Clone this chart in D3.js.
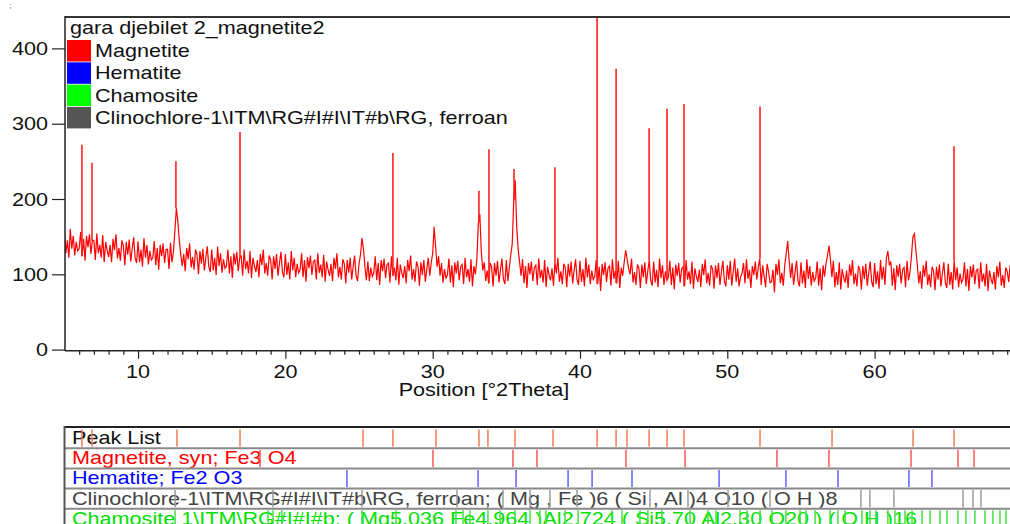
<!DOCTYPE html>
<html>
<head>
<meta charset="utf-8">
<script src="https://cdn.jsdelivr.net/npm/d3@7"></script>
<style>
body { margin: 0; background: #fff; }
text { font-family: "Liberation Sans", Arial, sans-serif; }
</style>
</head>
<body>
<svg id="chart" width="1010" height="524"></svg>
<script>
// scan: counts every 0.1 deg from 5.0 deg
var scanStart = 5.0, scanStep = 0.1
var counts = [
156,128,145,122,160,134,151,125,143,131,
134,156,124,147,118,151,136,153,127,145,
145,119,154,128,139,122,152,116,143,132,
123,139,116,147,132,153,121,135,118,145,
138,112,143,126,146,117,134,149,122,115,
144,116,133,110,148,122,139,113,131,119,
122,144,112,135,106,139,124,141,115,133,
133,107,142,116,130,158,188,170,145,126,
111,127,104,135,120,141,109,123,106,133,
126,100,131,114,134,105,122,137,110,103,
133,105,122,99,137,111,128,102,120,108,
111,133,101,124,95,128,113,130,104,122,
124,98,133,107,118,101,131,95,122,111,
103,119,96,127,112,133,101,115,98,125,
119,93,124,107,127,98,115,130,103,96,
127,99,116,93,131,105,122,96,114,102,
106,128,96,119,90,123,108,125,99,117,
119,93,128,102,113,96,126,90,117,106,
98,114,91,122,107,128,96,110,93,120,
114,88,119,102,122,93,110,125,98,91,
114,126,148,134,110,92,117,91,109,97,
102,124,92,115,86,119,104,121,95,113,
115,89,124,98,109,92,122,86,113,102,
95,111,88,119,104,125,93,107,90,117,
111,85,116,99,119,90,107,122,98,115,
128,163,136,110,124,98,115,89,107,95,
99,121,89,112,83,116,101,118,92,110,
113,87,122,96,107,90,120,84,111,100,
121,168,180,130,105,116,91,105,88,115,
110,84,115,98,118,89,106,121,94,87,
119,91,108,126,140,198,225,165,134,116,
98,120,88,111,82,115,100,117,91,109,
112,86,121,95,106,89,119,83,110,99,
92,108,85,116,101,122,90,104,87,114,
109,83,114,97,117,88,105,120,93,86,
118,90,107,84,122,96,113,87,105,93,
97,119,87,110,78,114,99,116,90,108,
111,85,120,94,105,88,118,82,109,98,
116,132,120,108,100,121,89,103,86,113,
108,82,113,96,116,87,104,119,92,85,
117,89,106,83,121,95,112,86,104,92,
96,118,86,109,80,113,98,115,89,107,
110,84,119,93,104,87,117,81,108,97,
90,106,83,114,99,120,88,102,85,112,
107,81,112,95,115,86,103,118,91,84,
112,93,118,85,103,121,90,108,84,97,
101,115,88,120,94,106,82,111,99,117,
93,109,121,86,112,98,83,114,104,89,
90,106,76,114,99,120,88,102,85,112,
128,144,118,95,115,86,103,118,91,84,
116,88,105,82,120,94,111,85,103,91,
95,117,85,108,79,112,97,114,124,138,
120,96,118,83,103,86,116,80,107,96,
89,105,82,113,98,119,87,101,84,111,
106,80,111,94,114,85,102,117,90,83,
115,87,104,81,119,93,110,86,122,131,
112,117,85,108,79,112,97,114,88,106,
109,83,118,92,103,124,150,154,132,112,
88,104,81,112,97,118,86,100,83,110,
105,79,110,93,113,84,101,116,89,82,
114,86,103,80,118,92,109,83,101,89,
94,116,84,107,78,111,96,113,87,105,
107,81,116,90,101,84,114,78,105,94,
87,103,80,111,96,117,85,99,82,109,
104,90,112
]

// sharp spikes in the scan
var spikePos    = [6.19, 6.87, 12.57, 16.92, 27.30, 33.14, 33.82, 35.52, 38.30, 41.16, 42.45, 44.69, 45.91, 47.06, 52.22, 65.39]
var spikeHeight = [272, 248, 250, 289, 261, 211, 266, 240, 242, 470, 373, 294, 320, 326, 323, 270]

// reference patterns (deg 2Theta)
var peakList = [6.19, 6.87, 12.64, 16.92, 25.27, 27.30, 30.22, 33.14, 33.75, 35.59, 38.17, 41.16, 42.45, 43.19, 44.69, 45.91, 47.06, 52.22, 57.11, 62.61, 65.39]
var magnetite = [18.28, 30.02, 35.45, 37.08, 43.12, 47.13, 53.37, 56.90, 62.47, 65.66, 66.75]
var hematite = [24.18, 33.08, 35.66, 39.19, 40.82, 43.53, 49.44, 53.98, 57.51, 62.33, 63.89]
var clinochlore = [12.51, 19.16, 25.20, 31.65, 34.77, 36.61, 37.96, 39.80, 44.75, 47.33, 50.05, 52.90, 59.07, 59.68, 61.31, 66.00, 66.68, 67.22]
var chamosite = [12.51, 18.82, 19.16, 19.77, 25.20, 27.51, 31.58, 32.06, 32.53, 33.75, 34.57, 35.59, 36.61, 37.28, 37.69, 38.98, 39.87,
  42.17, 42.85, 44.07, 44.61, 45.56, 47.47, 48.69, 49.23, 50.86, 51.34, 52.22, 53.04, 53.98, 54.94, 55.34, 55.96, 56.98, 57.51, 57.99,
  59.14, 59.68, 60.09, 60.90, 61.38, 62.06, 62.54, 63.22, 63.76, 64.44, 64.91, 65.66, 66.20, 66.81, 67.49, 68.03, 68.51, 68.92]

var legendTitle = "gara djebilet 2_magnetite2"
var legendNames = ["Magnetite", "Hematite", "Chamosite", "Clinochlore-1\\ITM\\RG#I#I\\IT#b\\RG, ferroan"]
var legendColors = ["#ff0000", "#0000ff", "#00ff00", "#555555"]

var rowLabels = ["Peak List", "Magnetite, syn; Fe3 O4", "Hematite; Fe2 O3",
  "Clinochlore-1\\ITM\\RG#I#I\\IT#b\\RG, ferroan; ( Mg , Fe )6 ( Si , Al )4 O10 ( O H )8",
  "Chamosite 1\\ITM\\RG#I#I#b; ( Mg5.036 Fe4.964 )Al2.724 ( Si5.70 Al2.30 O20 ) ( O H )16"]
var rowTextColors = ["#111111", "#ff0000", "#0000ff", "#444444", "#00e000"]
var rowStickColors = ["#f47a55", "#ff5555", "#6060ff", "#9a9a9a", "#44e044"]

var xTicks = [10, 20, 30, 40, 50, 60]
var yTicks = [0, 100, 200, 300, 400]

var svg = d3.select("#chart")

var x = d3.scaleLinear().domain([5.04, 69.19]).range([65, 1010])
var y = d3.scaleLinear().domain([0, 441.7]).range([349.6, 17])

function label(parent, tx, ty, str, size, color, anchor) {
    return parent.append("text")
        .attr("transform", "translate(" + tx + "," + ty + ") scale(1.2,1)")
        .attr("font-size", size)
        .attr("fill", color)
        .attr("text-anchor", anchor || "start")
        .text(str)
}

label(svg, 9, 8, ";", 8, "#666")

// plot area
svg.append("clipPath").attr("id", "clip")
    .append("rect").attr("x", 65).attr("y", 17).attr("width", 945).attr("height", 334)

var plot = svg.append("g").attr("clip-path", "url(#clip)")

var scan = counts.map(function(c, i) { return [scanStart + i * scanStep, c] })
var line = d3.line().x(function(d) { return x(d[0]) }).y(function(d) { return y(d[1]) })

plot.append("path")
    .datum(scan)
    .attr("d", line)
    .attr("fill", "none")
    .attr("stroke", "#ff0000")
    .attr("stroke-width", 1.2)

plot.selectAll(".spike")
    .data(spikePos)
    .enter()
    .append("line")
        .attr("class", "spike")
        .attr("x1", function(d) { return x(d) })
        .attr("x2", function(d) { return x(d) })
        .attr("y1", function(d) { return y(counts[Math.round((d - scanStart) / scanStep)]) })
        .attr("y2", function(d, i) { return y(spikeHeight[i]) })
        .attr("stroke", "#ff2020")
        .attr("stroke-width", 1.6)

// frame
svg.append("line").attr("x1", 65).attr("x2", 1010).attr("y1", 17).attr("y2", 17)
    .attr("stroke", "#333").attr("stroke-width", 2)
svg.append("line").attr("x1", 65).attr("x2", 65).attr("y1", 16).attr("y2", 351)
    .attr("stroke", "#222").attr("stroke-width", 1.5)
svg.append("line").attr("x1", 65).attr("x2", 1010).attr("y1", 350.7).attr("y2", 350.7)
    .attr("stroke", "#222").attr("stroke-width", 1.5)

// x axis
var xAxis = svg.append("g").attr("transform", "translate(0,350.7)")
xAxis.call(d3.axisBottom(x).tickValues(xTicks).tickSize(8).tickFormat(""))
xAxis.append("g").call(d3.axisBottom(x)
    .tickValues(d3.range(6, 70).filter(function(v) { return v % 10 != 0 }))
    .tickSize(4).tickFormat(""))
xAxis.selectAll(".domain").remove()
xAxis.selectAll("line").attr("stroke", "#222").attr("stroke-width", 1.2)

xTicks.forEach(function(t) {
    label(svg, x(t), 378, String(t), 18, "#111", "middle")
})
label(svg, 484, 396, "Position [°2Theta]", 18, "#111", "middle")

// y axis
var yAxis = svg.append("g").attr("transform", "translate(65,0)")
yAxis.call(d3.axisLeft(y).tickValues(yTicks).tickSize(13).tickFormat(""))
yAxis.selectAll(".domain").remove()
yAxis.selectAll("line").attr("stroke", "#222").attr("stroke-width", 1.2)
yTicks.forEach(function(t) {
    label(svg, 48, y(t) + 6.5, String(t), 18, "#111", "end")
})

// legend
label(svg, 70, 34, legendTitle, 18, "#111")
legendNames.forEach(function(n, i) {
    svg.append("rect")
        .attr("x", 67).attr("y", 40 + i * 22.3)
        .attr("width", 24).attr("height", 21.5)
        .attr("fill", legendColors[i])
    label(svg, 95, 57 + i * 22.4, n, 18, "#111")
})

// stick panels
var rowSticks = [peakList, magnetite, hematite, clinochlore, chamosite]
var rows = rowLabels.map(function(l, i) {
    return { label: l, text: rowTextColors[i], stick: rowStickColors[i], pos: rowSticks[i] }
})

var band = d3.scaleBand().domain(rowLabels).range([428, 529])

var panel = svg.append("g")
rows.forEach(function(r) {
    var top = band(r.label), bottom = top + band.bandwidth()
    label(panel, 72, top + 16, r.label, 18, r.text)
    panel.selectAll(null)
        .data(r.pos)
        .enter()
        .append("line")
            .attr("x1", function(d) { return x(d) })
            .attr("x2", function(d) { return x(d) })
            .attr("y1", top + 1.5)
            .attr("y2", bottom - 1.5)
            .attr("stroke", r.stick)
            .attr("stroke-width", 1.5)
    panel.append("line")
        .attr("x1", 64).attr("x2", 1010).attr("y1", bottom).attr("y2", bottom)
        .attr("stroke", "#8a8a8a").attr("stroke-width", 2)
})
panel.append("line").attr("x1", 64).attr("x2", 1010).attr("y1", 427).attr("y2", 427)
    .attr("stroke", "#222").attr("stroke-width", 2)
panel.append("line").attr("x1", 64.5).attr("x2", 64.5).attr("y1", 426).attr("y2", 524)
    .attr("stroke", "#555").attr("stroke-width", 2)
</script>
</body>
</html>
